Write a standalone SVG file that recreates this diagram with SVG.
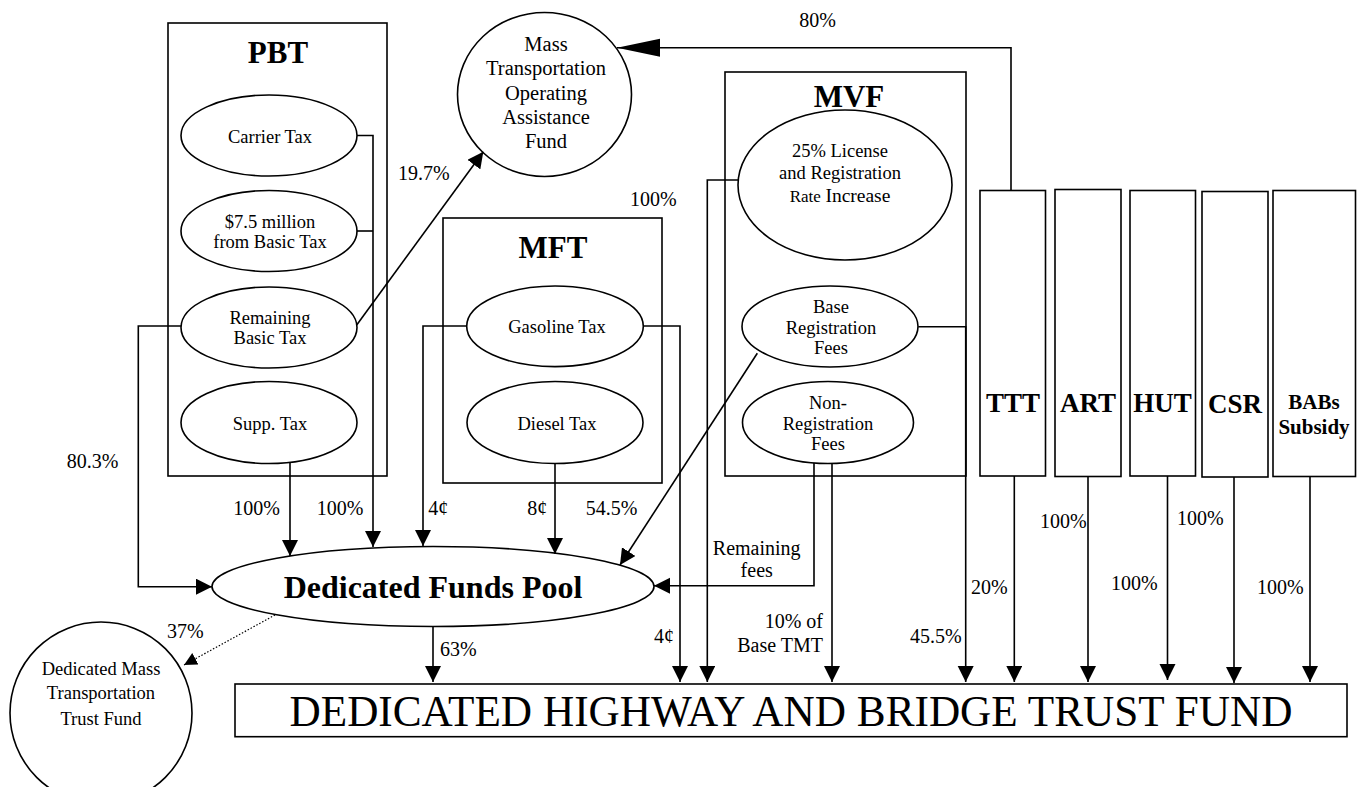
<svg xmlns="http://www.w3.org/2000/svg" width="1360" height="787" viewBox="0 0 1360 787" font-family="'Liberation Serif', 'Times New Roman', Times, serif">
<style>
svg text{font-family:'Liberation Serif','Times New Roman',Times,serif;fill:#000}
.shape{fill:#fff;stroke:#000;stroke-width:1.6}
.ln{fill:none;stroke:#000;stroke-width:1.6}
.dot{fill:none;stroke:#000;stroke-width:1.2;stroke-dasharray:1.5 1.8}
.t{font-size:18.5px;text-anchor:middle}
.t2{font-size:20.5px;text-anchor:middle}
.lb{font-size:20px}
.h{font-size:31px;font-weight:bold;text-anchor:middle}
.hb{font-size:27px;font-weight:bold;text-anchor:middle}
.hs{font-size:21px;font-weight:bold;text-anchor:middle}
</style>
<defs>
<marker id="ar" markerUnits="userSpaceOnUse" markerWidth="17" markerHeight="17" refX="16" refY="8" orient="auto"><path d="M0,0 L16,8 L0,16 z" fill="#000"/></marker>
<marker id="arBig" markerUnits="userSpaceOnUse" markerWidth="44" markerHeight="19" refX="43" refY="9" orient="auto"><path d="M0,0 L43,9 L0,18 z" fill="#000"/></marker>
<marker id="arSm" markerUnits="userSpaceOnUse" markerWidth="14" markerHeight="14" refX="13" refY="6.5" orient="auto"><path d="M0,0 L13,6.5 L0,13 z" fill="#000"/></marker>
</defs>
<rect width="1360" height="787" fill="#fff"/>

<g id="PBT"><rect class="shape" x="168" y="23" width="219" height="453"/><text class="h" x="278" y="63">PBT</text></g>
<g id="MFT"><rect class="shape" x="443" y="218" width="219" height="265"/><text class="h" x="553" y="258">MFT</text></g>
<g id="MVF"><rect class="shape" x="725" y="72" width="241" height="404"/><text class="h" x="849" y="107">MVF</text></g>

<g id="carrier"><ellipse class="shape" cx="269" cy="135.5" rx="88" ry="40.5"/><text class="t" x="270" y="142.5">Carrier Tax</text></g>
<g id="million"><ellipse class="shape" cx="269" cy="231" rx="88" ry="40.5"/><text class="t" x="270" y="228.3">$7.5 million</text><text class="t" x="270" y="248.3">from Basic Tax</text></g>
<g id="remaining"><ellipse class="shape" cx="269" cy="327.5" rx="88" ry="40.5"/><text class="t" x="270" y="324">Remaining</text><text class="t" x="270" y="344">Basic Tax</text></g>
<g id="supp"><ellipse class="shape" cx="269" cy="422.5" rx="88" ry="41"/><text class="t" x="270" y="430">Supp. Tax</text></g>

<g id="gasoline"><ellipse class="shape" cx="555" cy="326.3" rx="88.3" ry="40.3"/><text class="t" x="557" y="333">Gasoline Tax</text></g>
<g id="diesel"><ellipse class="shape" cx="555" cy="422.5" rx="88" ry="41"/><text class="t" x="557" y="430">Diesel Tax</text></g>

<g id="license"><ellipse class="shape" cx="845" cy="185" rx="107" ry="75"/><text class="t" x="840" y="157">25% License</text><text class="t" x="840" y="179">and Registration</text><text class="t" x="840" y="202"><tspan font-size="17">Rate</tspan> <tspan font-size="19.5">Increase</tspan></text></g>
<g id="basereg"><ellipse class="shape" cx="830" cy="326.5" rx="88" ry="40.5"/><text class="t" x="831" y="313">Base</text><text class="t" x="831" y="334">Registration</text><text class="t" x="831" y="354">Fees</text></g>
<g id="nonreg"><ellipse class="shape" cx="828" cy="422.5" rx="85.5" ry="41"/><text class="t" x="828" y="409">Non-</text><text class="t" x="828" y="430">Registration</text><text class="t" x="828" y="450">Fees</text></g>

<g id="massop"><ellipse class="shape" cx="544.5" cy="94.5" rx="87" ry="82"/><text class="t2" x="546" y="51">Mass</text><text class="t2" x="546" y="75">Transportation</text><text class="t2" x="546" y="100">Operating</text><text class="t2" x="546" y="124">Assistance</text><text class="t2" x="546" y="148">Fund</text></g>

<g id="TTT"><rect class="shape" x="980" y="190.5" width="65.5" height="285.5"/><text class="hb" x="1013" y="412">TTT</text></g>
<g id="ART"><rect class="shape" x="1055" y="189.5" width="66" height="287"/><text class="hb" x="1088" y="412">ART</text></g>
<g id="HUT"><rect class="shape" x="1130" y="190.5" width="65.5" height="285.5"/><text class="hb" x="1162.5" y="412">HUT</text></g>
<g id="CSR"><rect class="shape" x="1202" y="191.5" width="66" height="285.5"/><text class="hb" x="1235" y="412.5">CSR</text></g>
<g id="BABs"><rect class="shape" x="1273" y="190.5" width="82.5" height="286"/><text class="hs" x="1314" y="409">BABs</text><text class="hs" x="1314" y="434">Subsidy</text></g>

<g id="pool"><ellipse class="shape" cx="433" cy="586.5" rx="221" ry="40"/><text x="433" y="598" font-size="32" font-weight="bold" text-anchor="middle">Dedicated Funds Pool</text></g>
<g id="dmttf"><ellipse class="shape" cx="101" cy="713" rx="91" ry="91"/><text class="t" x="101" y="675" font-size="20">Dedicated Mass</text><text class="t" x="101" y="699" font-size="20">Transportation</text><text class="t" x="101" y="725" font-size="20">Trust Fund</text></g>
<g id="trustfund"><rect class="shape" x="235" y="684" width="1112" height="52.7"/><text x="791" y="726" font-size="44" text-anchor="middle" textLength="1003" lengthAdjust="spacingAndGlyphs">DEDICATED HIGHWAY AND BRIDGE TRUST FUND</text></g>

<g id="connectors">
<path class="ln" d="M357,135.5 H373 V547" marker-end="url(#ar)"/>
<path class="ln" d="M357,231 H373"/>
<path class="ln" d="M290,462.3 V556" marker-end="url(#ar)"/>
<path class="ln" d="M181,326 H138.3 V586.7 H212" marker-end="url(#ar)"/>
<path class="ln" d="M356.7,325 L483.3,151.7" marker-end="url(#ar)"/>
<path class="ln" d="M466.7,326 H423 V546" marker-end="url(#ar)"/>
<path class="ln" d="M555,463.5 V554" marker-end="url(#ar)"/>
<path class="ln" d="M643.3,326 H680 V682" marker-end="url(#ar)"/>
<path class="ln" d="M757.3,353.3 L620,565" marker-end="url(#ar)"/>
<path class="ln" d="M738,180 H707.3 V682" marker-end="url(#ar)"/>
<path class="ln" d="M918.3,326.7 H965.7 V682" marker-end="url(#ar)"/>
<path class="ln" d="M814,463 V585.7 H654" marker-end="url(#ar)"/>
<path class="ln" d="M832,463.5 V682" marker-end="url(#ar)"/>
<path class="ln" d="M1011,190.5 V47.7 H617" marker-end="url(#arBig)"/>
<path class="ln" d="M1014.3,476 V682" marker-end="url(#ar)"/>
<path class="ln" d="M1088,476.5 V682" marker-end="url(#ar)"/>
<path class="ln" d="M1167.5,476 V680" marker-end="url(#ar)"/>
<path class="ln" d="M1234,477 V683" marker-end="url(#ar)"/>
<path class="ln" d="M1310,476.5 V682" marker-end="url(#ar)"/>
<path class="ln" d="M433,626.5 V682" marker-end="url(#ar)"/>
<path class="dot" d="M275,615 L184,665" marker-end="url(#arSm)"/>
</g>

<g id="labels" class="lb">
<text x="817.5" y="27" text-anchor="middle">80%</text>
<text x="398" y="180">19.7%</text>
<text x="630" y="206">100%</text>
<text x="66.7" y="468">80.3%</text>
<text x="233.3" y="515">100%</text>
<text x="316.7" y="515">100%</text>
<text x="428.3" y="515">4¢</text>
<text x="527.3" y="515">8¢</text>
<text x="585.7" y="515">54.5%</text>
<text x="756.7" y="555" text-anchor="middle">Remaining</text>
<text x="756.7" y="577" text-anchor="middle">fees</text>
<text x="167" y="638">37%</text>
<text x="440" y="656">63%</text>
<text x="654" y="643">4¢</text>
<text x="823" y="628" text-anchor="end">10% of</text>
<text x="823" y="652" text-anchor="end">Base TMT</text>
<text x="910" y="643">45.5%</text>
<text x="971" y="594">20%</text>
<text x="1040" y="528">100%</text>
<text x="1111" y="590">100%</text>
<text x="1177" y="525">100%</text>
<text x="1257" y="594">100%</text>
</g>
</svg>
